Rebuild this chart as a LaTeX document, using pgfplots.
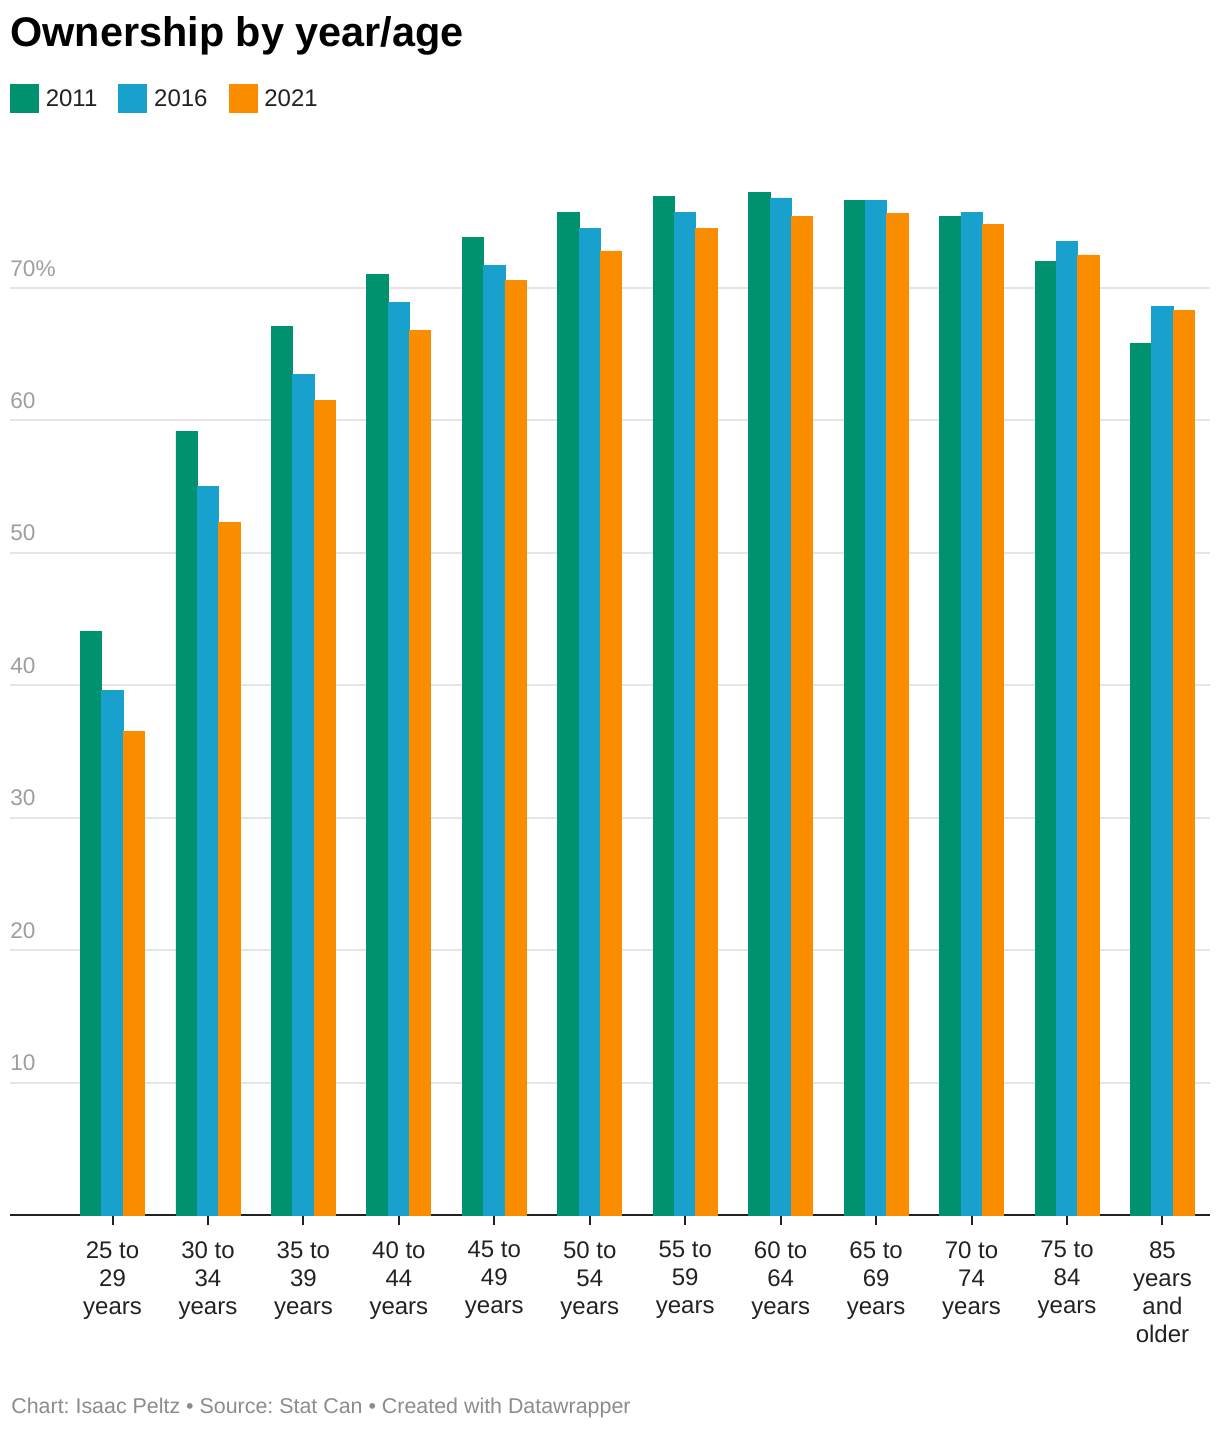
\documentclass[border=0pt]{standalone}
\usepackage{fontspec}
\setmainfont{Liberation Sans}
\usepackage{pgfplots}
\usepackage{pgfplotstable}
\pgfplotsset{compat=1.18}
\frenchspacing
\definecolor{cA}{HTML}{00916F}
\definecolor{cB}{HTML}{18A1CD}
\definecolor{cC}{HTML}{FA8C00}
\definecolor{gridc}{HTML}{E5E5E5}
\definecolor{ylab}{HTML}{9E9E9E}
\definecolor{foot}{HTML}{8C8C8C}
\definecolor{txt}{HTML}{222222}

\pgfplotstableread{
x y
0 44.1
1 59.2
2 67.1
3 71.0
4 73.8
5 75.7
6 76.9
7 77.2
8 76.6
9 75.4
10 72.0
11 65.8
}\dataA
\pgfplotstableread{
x y
0 39.6
1 55.0
2 63.5
3 68.9
4 71.7
5 74.5
6 75.7
7 76.8
8 76.6
9 75.7
10 73.5
11 68.6
}\dataB
\pgfplotstableread{
x y
0 36.5
1 52.3
2 61.5
3 66.8
4 70.6
5 72.8
6 74.5
7 75.4
8 75.6
9 74.8
10 72.5
11 68.3
}\dataC

\pgfplotsset{sqlegend/.style={legend image code/.code={\fill[##1] (0pt,-6pt) rectangle (14pt,8pt);}}}

\begin{document}
\begin{tikzpicture}
\begin{axis}[
  at={(0pt,0pt)}, anchor=south west,
  scale only axis, width=600pt, height=529.7pt,
  xmin=-1.074, xmax=11.498, ymin=0, ymax=80,
  ybar=0pt, bar width=10.67pt,
  axis x line=bottom, axis y line=left,
  x axis line style={-, draw=txt, line width=1pt},
  y axis line style={-, draw=none},
  xtick={0,...,11},
  xticklabels={{25 to\\29\\years},{30 to\\34\\years},{35 to\\39\\years},{40 to\\44\\years},{45 to\\49\\years},{50 to\\54\\years},{55 to\\59\\years},{60 to\\64\\years},{65 to\\69\\years},{70 to\\74\\years},{75 to\\84\\years},{85\\years\\and\\older}},
  xtick style={draw=txt, line width=1pt},
  major tick length=5pt,
  tick align=outside,
  xticklabel style={align=center, font=\fontsize{12}{14}\selectfont, text=txt, inner sep=0pt, anchor=north, yshift=-8pt},
  ytick={10,20,30,40,50,60,70},
  yticklabels={10,20,30,40,50,60,70\%},
  ytick style={draw=none},
  yticklabel style={anchor=base west, inner sep=0pt, xshift=5pt, yshift=6pt, font=\fontsize{11.3}{12}\selectfont, text=ylab},
  ymajorgrids, major grid style={draw=gridc, line width=1pt},
  legend columns=3,
  legend style={at={(axis description cs:0,1.0544)}, anchor=west, draw=none, fill=none, inner sep=0pt, outer sep=0pt,
    font=\fontsize{12}{14}\selectfont, text=txt, nodes={inner sep=0pt},
    /tikz/every odd column/.append style={column sep=3.5pt},
    /tikz/every even column/.append style={column sep=10.5pt}},
]
\addplot[fill=cA, draw=cA, line width=0.4pt, sqlegend] table[x=x,y=y]{\dataA};
\addplot[fill=cB, draw=cB, line width=0.4pt, sqlegend] table[x=x,y=y]{\dataB};
\addplot[fill=cC, draw=cC, line width=0.4pt, sqlegend] table[x=x,y=y]{\dataC};
\legend{2011,2016,2021}
\end{axis}
\node[anchor=base west, inner sep=0pt, font=\fontsize{20.7}{24}\selectfont\bfseries] at (0pt,584pt) {Ownership by year/age};
\node[anchor=base west, inner sep=0pt, font=\fontsize{10.7}{12}\selectfont, text=foot] at (0.5pt,-99pt) {Chart: Isaac Peltz • Source: Stat Can • Created with Datawrapper};
\pgfresetboundingbox
\path (-5pt,-107.5pt) rectangle (605pt,607.5pt);
\end{tikzpicture}
\end{document}
